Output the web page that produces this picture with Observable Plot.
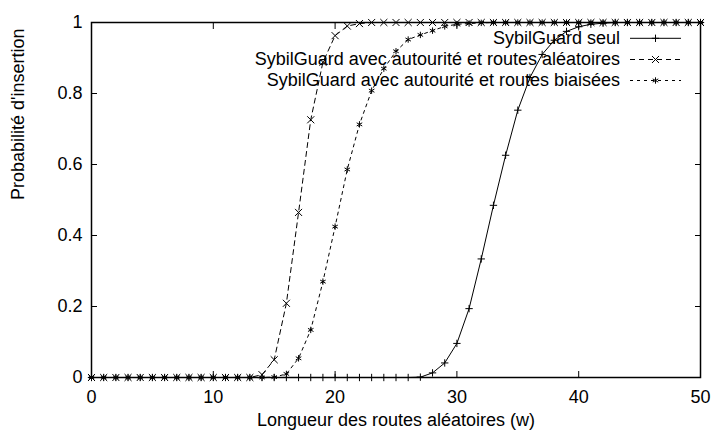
<!DOCTYPE html>
<html>
<head>
<meta charset="utf-8">
<script src="https://cdn.jsdelivr.net/npm/d3@7"></script>
<script src="https://cdn.jsdelivr.net/npm/@observablehq/plot@0.6"></script>
<style>
  html, body { margin: 0; padding: 0; background: #fff; }
</style>
</head>
<body>
<div id="chart"></div>
<script>
const w = [0,1,2,3,4,5,6,7,8,9,10,11,12,13,14,15,16,17,18,19,20,21,22,23,24,25,26,27,28,29,30,31,32,33,34,35,36,37,38,39,40,41,42,43,44,45,46,47,48,49,50];

const seul = [0,0,0,0,0,0,0,0,0,0,0,0,0,0,0,0,0,0,0,0,0,0,0,0,0,0,0,0.001,0.013,0.041,0.096,0.194,0.334,0.485,0.626,0.753,0.845,0.91,0.95,0.975,0.988,0.995,0.998,1,1,1,1,1,1,1,1];

const aleatoires = [0,0,0,0,0,0,0,0,0,0,0,0,0,0,0.008,0.05,0.209,0.465,0.726,0.888,0.963,0.99,0.997,1,1,1,1,1,1,1,1,1,1,1,1,1,1,1,1,1,1,1,1,1,1,1,1,1,1,1,1];

const biaisees = [0,0,0,0,0,0,0,0,0,0,0,0,0,0,0,0.001,0.01,0.054,0.134,0.27,0.425,0.586,0.713,0.808,0.87,0.919,0.952,0.965,0.977,0.989,0.995,0.997,0.999,1,1,1,1,1,1,1,1,1,1,1,1,1,1,1,1,1,1];

const seriesNames = [
  "SybilGuard seul",
  "SybilGuard avec autourité et routes aléatoires",
  "SybilGuard avec autourité et routes biaisées"
];

const xTicks = [0, 10, 20, 30, 40, 50];
const yTicks = [0, 0.2, 0.4, 0.6, 0.8, 1];
const yTickLabels = ["0", "0.2", "0.4", "0.6", "0.8", "1"];
const xLabel = "Longueur des routes aléatoires (w)";
const yLabel = "Probabilité d'insertion";

// styles
const styles = [
  {dash: null, symbol: "plus", r: 2.5},
  {dash: "5,4", symbol: "times", r: 3.3},
  {dash: "3,4", symbol: "asterisk", r: 3}
];
const d3Symbols = {plus: d3.symbolPlus, times: d3.symbolTimes, asterisk: d3.symbolAsterisk};

const allValues = [seul, aleatoires, biaisees];
const data = [];
allValues.forEach((vals, s) => {
  vals.forEach((v, i) => data.push({series: s, w: w[i], p: v}));
});

const seriesMarks = [];
[2, 1, 0].forEach(s => {
  const d = data.filter(e => e.series === s);
  seriesMarks.push(Plot.line(d, {x: "w", y: "p", stroke: "black", strokeWidth: 1, strokeDasharray: styles[s].dash}));
  seriesMarks.push(Plot.dot(d, {x: "w", y: "p", symbol: () => styles[s].symbol, stroke: "black", strokeWidth: 1, fill: "none", r: styles[s].r}));
});

// legend rendering (layout only)
const legendRows = [16.3, 37.5, 58.5];
function legendMark(index, scales, values, dim) {
  const right = dim.width - dim.marginRight;
  const g = d3.create("svg:g");
  seriesNames.forEach((name, s) => {
    const y = dim.marginTop + legendRows[s];
    g.append("text")
      .attr("x", right - 80).attr("y", y).attr("dy", "0.32em")
      .attr("text-anchor", "end").attr("fill", "black")
      .text(name);
    g.append("line")
      .attr("x1", right - 70).attr("x2", right - 19)
      .attr("y1", y).attr("y2", y)
      .attr("stroke", "black").attr("stroke-width", 1)
      .attr("stroke-dasharray", styles[s].dash);
    const r = styles[s].r;
    g.append("path")
      .attr("transform", `translate(${right - 44.5},${y})`)
      .attr("d", d3.symbol(d3Symbols[styles[s].symbol], r * r * Math.PI)())
      .attr("fill", "none").attr("stroke", "black").attr("stroke-width", 1);
  });
  return g.node();
}

const chart = Plot.plot({
  width: 713,
  height: 437,
  marginTop: 22,
  marginRight: 13,
  marginBottom: 60,
  marginLeft: 91,
  style: {fontFamily: "'Liberation Sans', Arial, sans-serif", fontSize: "18px", color: "black", background: "white"},
  x: {domain: [0, 50]},
  y: {domain: [0, 1]},
  marks: [
    // tick labels
    Plot.axisX(xTicks, {anchor: "bottom", tickSize: 0, tickPadding: 13, label: null, tickFormat: d => String(d)}),
    Plot.axisY(yTicks, {anchor: "left", tickSize: 0, tickPadding: 9, label: null, tickFormat: (d, i) => yTickLabels[yTicks.indexOf(d)]}),
    // inward ticks on all four sides
    Plot.axisX(xTicks, {anchor: "bottom", tickSize: 6, dy: -6, label: null, tickFormat: () => ""}),
    Plot.axisX(xTicks, {anchor: "top", tickSize: 6, dy: 6, label: null, tickFormat: () => ""}),
    Plot.axisY(yTicks, {anchor: "left", tickSize: 6, dx: 6, label: null, tickFormat: () => ""}),
    Plot.axisY(yTicks, {anchor: "right", tickSize: 6, dx: -6, label: null, tickFormat: () => ""}),
    ...seriesMarks,
    Plot.frame({stroke: "black", strokeWidth: 1.5}),
    Plot.text([xLabel], {frameAnchor: "bottom", dy: 48.5, fill: "black"}),
    Plot.text([yLabel], {frameAnchor: "left", dx: -73, rotate: -90, fill: "black"}),
    legendMark
  ]
});

document.getElementById("chart").appendChild(chart);
</script>
</body>
</html>
